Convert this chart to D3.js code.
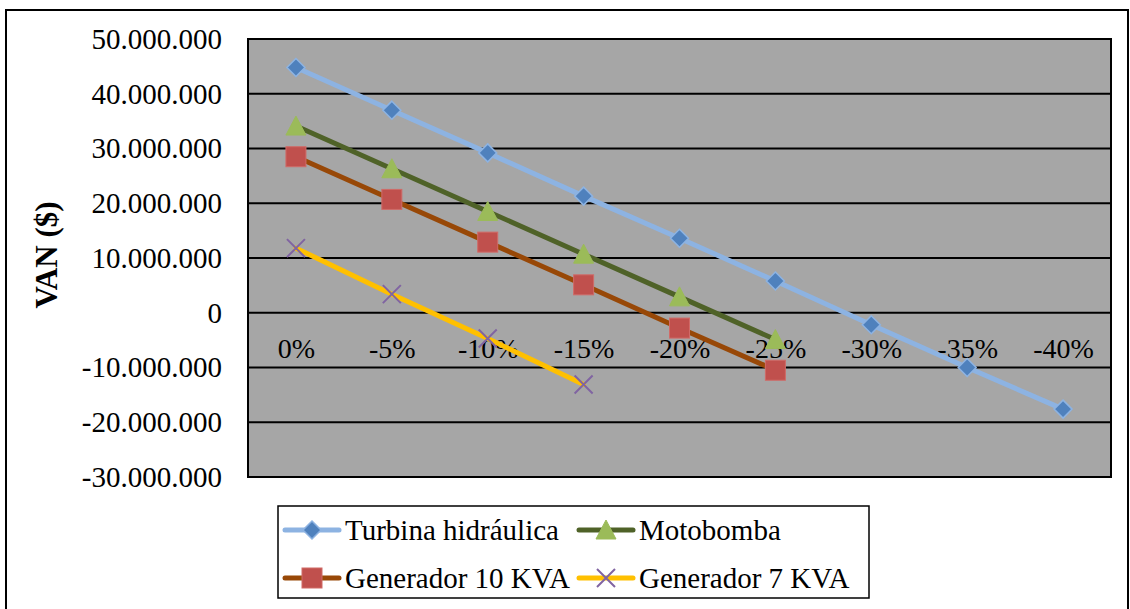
<!DOCTYPE html>
<html>
<head>
<meta charset="utf-8">
<script src="https://cdn.jsdelivr.net/npm/d3@7"></script>
<style>
  html, body { margin: 0; padding: 0; background: #ffffff; }
</style>
</head>
<body>
<svg id="chart" width="1130" height="609"></svg>
<script>
// Discount-rate scenarios (categories on the horizontal axis)
const categories = ["0%", "-5%", "-10%", "-15%", "-20%", "-25%", "-30%", "-35%", "-40%"];

// Net present value (VAN) per scenario, in pesos
const turbina    = [44800000, 37000000, 29200000, 21300000, 13600000, 5800000, -2200000, -10000000, -17600000];
const motobomba  = [34100000, 26300000, 18500000, 10700000, 2900000, -4900000];
const generador10 = [28500000, 20700000, 12900000, 5100000, -2800000, -10500000];
const generador7 = [11800000, 3400000, -4700000, -13100000];

// Value axis ticks
const yTicks = [50000000, 40000000, 30000000, 20000000, 10000000, 0, -10000000, -20000000, -30000000];

const seriesNames = ["Turbina hidráulica", "Motobomba", "Generador 10 KVA", "Generador 7 KVA"];

const series = [
  { name: seriesNames[0], values: turbina,     line: "#8db3e2", fill: "#4f81bd", stroke: "#8db3e2", marker: "diamond" },
  { name: seriesNames[1], values: motobomba,   line: "#4f6228", fill: "#9bbb59", stroke: "#9bbb59", marker: "triangle" },
  { name: seriesNames[2], values: generador10, line: "#984807", fill: "#c0504d", stroke: "#d06a67", marker: "square" },
  { name: seriesNames[3], values: generador7,  line: "#ffc000", fill: "none",    stroke: "#8064a2", marker: "x" }
];

const FONT = "'Liberation Serif', 'Times New Roman', Tinos, serif";

const svg = d3.select("#chart");

// Outer chart frame
svg.append("rect")
  .attr("x", 6).attr("y", 10).attr("width", 1122).attr("height", 620)
  .attr("fill", "#ffffff").attr("stroke", "#000000").attr("stroke-width", 2);

const plot = { left: 248, top: 39, right: 1111, bottom: 477 };

const x = d3.scalePoint()
  .domain(categories)
  .range([plot.left, plot.right])
  .padding(0.5);

const y = d3.scaleLinear()
  .domain([-30000000, 50000000])
  .range([plot.bottom, plot.top]);

const locale = d3.formatLocale({ decimal: ",", thousands: ".", grouping: [3], currency: ["$", ""], minus: "-" });
const fmt = locale.format(",d");

// Plot area background
svg.append("rect")
  .attr("x", plot.left).attr("y", plot.top)
  .attr("width", plot.right - plot.left).attr("height", plot.bottom - plot.top)
  .attr("fill", "#a6a6a6");

// Horizontal gridlines
svg.append("g")
  .selectAll("line")
  .data(yTicks)
  .join("line")
  .attr("x1", plot.left).attr("x2", plot.right)
  .attr("y1", d => y(d)).attr("y2", d => y(d))
  .attr("stroke", "#000000").attr("stroke-width", 2);

// Plot area border
svg.append("rect")
  .attr("x", plot.left).attr("y", plot.top)
  .attr("width", plot.right - plot.left).attr("height", plot.bottom - plot.top)
  .attr("fill", "none").attr("stroke", "#000000").attr("stroke-width", 2);

// Value axis labels
const yAxis = d3.axisLeft(y).tickValues(yTicks).tickFormat(fmt).tickSize(0).tickPadding(26);
const yAxisG = svg.append("g").attr("transform", `translate(${plot.left},0)`).call(yAxis);
yAxisG.select(".domain").remove();
yAxisG.selectAll("text")
  .style("font-family", FONT)
  .attr("font-size", 29).attr("fill", "#000000");

// Category labels sit just below the zero line
const xAxis = d3.axisBottom(x).tickSize(0).tickPadding(0);
const xAxisG = svg.append("g").attr("transform", `translate(0,${y(0)})`).call(xAxis);
xAxisG.select(".domain").remove();
xAxisG.selectAll("text")
  .style("font-family", FONT)
  .attr("font-size", 28).attr("fill", "#000000")
  .attr("dy", null).attr("y", 45);

// Axis title
svg.append("text")
  .attr("transform", `translate(57,255) rotate(-90)`)
  .attr("text-anchor", "middle")
  .style("font-family", FONT)
  .attr("font-size", 31).attr("font-weight", "bold")
  .text("VAN ($)");

// Marker drawing
function drawMarker(g, s, cx, cy) {
  if (s.marker === "diamond") {
    const r = 9;
    g.append("path")
      .attr("d", `M${cx},${cy - r}L${cx + r},${cy}L${cx},${cy + r}L${cx - r},${cy}Z`)
      .attr("fill", s.fill).attr("stroke", s.stroke).attr("stroke-width", 1.5);
  } else if (s.marker === "triangle") {
    g.append("path")
      .attr("d", `M${cx},${cy - 10}L${cx + 10},${cy + 9}L${cx - 10},${cy + 9}Z`)
      .attr("fill", s.fill).attr("stroke", s.stroke).attr("stroke-width", 1);
  } else if (s.marker === "square") {
    g.append("rect")
      .attr("x", cx - 10).attr("y", cy - 10).attr("width", 20).attr("height", 20)
      .attr("fill", s.fill).attr("stroke", s.stroke).attr("stroke-width", 1);
  } else if (s.marker === "x") {
    const r = 9;
    g.append("path")
      .attr("d", `M${cx - r},${cy - r}L${cx + r},${cy + r}M${cx - r},${cy + r}L${cx + r},${cy - r}`)
      .attr("fill", "none").attr("stroke", s.stroke).attr("stroke-width", 2);
  }
}

// Series lines and markers
const line = d3.line()
  .x((d, i) => x(categories[i]))
  .y(d => y(d));

series.forEach(s => {
  const g = svg.append("g");
  g.append("path")
    .datum(s.values)
    .attr("d", line)
    .attr("fill", "none")
    .attr("stroke", s.line)
    .attr("stroke-width", 5)
    .attr("stroke-linejoin", "round")
    .attr("stroke-linecap", "round");
  s.values.forEach((v, i) => drawMarker(g, s, x(categories[i]), y(v)));
});

// Legend
const legend = svg.append("g");
legend.append("rect")
  .attr("x", 278).attr("y", 506).attr("width", 591).attr("height", 92)
  .attr("fill", "#ffffff").attr("stroke", "#000000").attr("stroke-width", 1.5);

const legendPos = [
  { tx: 345, cy: 530 },
  { tx: 639, cy: 530 },
  { tx: 345, cy: 578 },
  { tx: 639, cy: 578 }
];

series.forEach((s, i) => {
  const p = legendPos[i];
  const g = legend.append("g");
  g.append("line")
    .attr("x1", p.tx - 60).attr("x2", p.tx - 6)
    .attr("y1", p.cy).attr("y2", p.cy)
    .attr("stroke", s.line).attr("stroke-width", 5).attr("stroke-linecap", "round");
  drawMarker(g, s, p.tx - 33, p.cy);
  g.append("text")
    .attr("x", p.tx).attr("y", p.cy + 10)
    .style("font-family", FONT)
    .attr("font-size", 29).attr("fill", "#000000")
    .text(s.name);
});
</script>
</body>
</html>
